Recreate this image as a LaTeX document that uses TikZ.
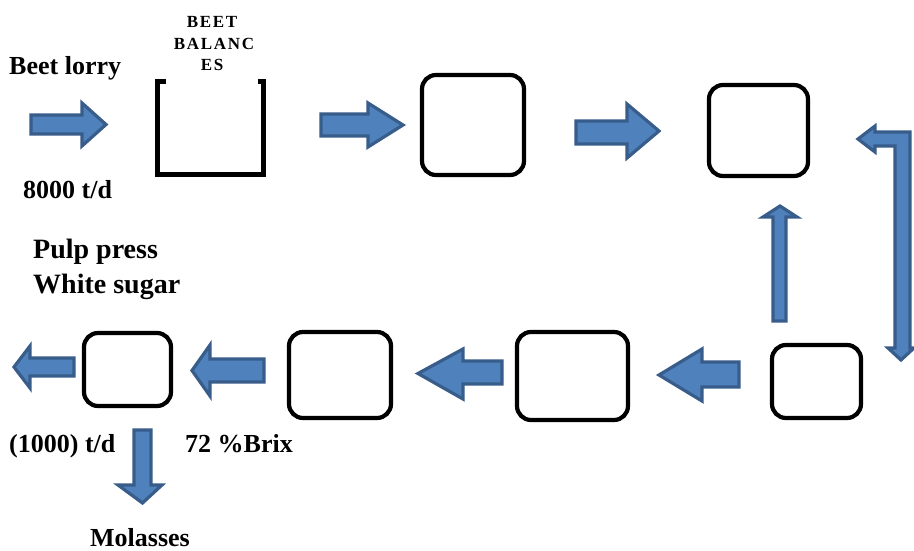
\documentclass[tikz,border=0pt]{standalone}
\usepackage{fontspec}
\setmainfont{Liberation Serif}
\definecolor{arrowfill}{HTML}{4F81BD}
\definecolor{arrowline}{HTML}{385D8A}
\tikzset{
  blockarrow/.style={fill=arrowfill, draw=arrowline, line width=3.2pt, line join=miter},
  procbox/.style={draw=black, line width=4.2pt, rounded corners=14pt, inner sep=0pt},
  lbl/.style={font=\fontsize{26}{30}\selectfont\bfseries, inner sep=0pt, anchor=base west},
  biglbl/.style={font=\fontsize{28}{32}\selectfont\bfseries, inner sep=0pt, anchor=base west},
  smalllbl/.style={font=\fontsize{17}{20}\selectfont\bfseries\addfontfeatures{LetterSpace=10}, inner sep=0pt, anchor=base},
}
\begin{document}
\begin{tikzpicture}[x=1pt, y=-1pt]
\useasboundingbox (0,0) rectangle (914,550);
\fill[white] (0,0) rectangle (914,550);

% texts
\node[lbl] (lorry) at (9,74) {Beet lorry};
\node[lbl] (rate) at (23,198) {8000 t/d};
\node[biglbl] (pulp) at (33,258) {Pulp press};
\node[biglbl] (white) at (33,293) {White sugar};
\node[lbl] (thousand) at (9,452) {(1000) t/d};
\node[lbl] (brix) at (185,452) {72 \%Brix};
\node[lbl] (molasses) at (90,546) {Molasses};
\node[smalllbl] (bal1) at (212,27) {BEET};
\node[smalllbl] (bal2) at (214,49) {BALANC};
\node[smalllbl] (bal3) at (212,70) {ES};

% beet balances bracket
\draw[line width=5pt, line join=miter] (166,81) -- (157,81) -- (157,174) -- (263,174) -- (263,81) -- (258,81);

% boxes
\node[procbox, minimum width=102pt, minimum height=100pt] (A) at (473,125) {};
\node[procbox, minimum width=99pt, minimum height=91pt] (B) at (758.5,130.5) {};
\node[procbox, minimum width=89pt, minimum height=73pt] (C) at (816.5,381.5) {};
\node[procbox, minimum width=111pt, minimum height=88pt] (D) at (572.5,376) {};
\node[procbox, minimum width=102pt, minimum height=86pt] (E) at (340,375) {};
\node[procbox, minimum width=87pt, minimum height=73pt] (F) at (127.5,369.5) {};

% block arrows (right)
\draw[blockarrow] (31,115) -- (82,115) -- (82,103) -- (106,124.5) -- (82,146) -- (82,134) -- (31,134) -- cycle;
\draw[blockarrow] (321,114) -- (368,114) -- (368,103) -- (403,125) -- (368,147) -- (368,136) -- (321,136) -- cycle;
\draw[blockarrow] (576,121) -- (627,121) -- (627,104) -- (659,131) -- (627,158) -- (627,144) -- (576,144) -- cycle;

% block arrows (left)
\draw[blockarrow] (739,362) -- (702,362) -- (702,349) -- (659,375) -- (702,401) -- (702,387) -- (739,387) -- cycle;
\draw[blockarrow] (502,361) -- (463,361) -- (463,349) -- (418,373.5) -- (463,399) -- (463,384) -- (502,384) -- cycle;
\draw[blockarrow] (264,359) -- (210,359) -- (210,345) -- (192,370.5) -- (210,396) -- (210,382) -- (264,382) -- cycle;
\draw[blockarrow] (74,358) -- (30,358) -- (30,346) -- (14,367) -- (30,388) -- (30,376) -- (74,376) -- cycle;

% down arrow to molasses
\draw[blockarrow] (134,430) -- (151,430) -- (151,485) -- (162,485) -- (142.5,503) -- (118,485) -- (134,485) -- cycle;

% up arrow
\draw[blockarrow] (773,321) -- (773,217) -- (763,217) -- (780,206) -- (797,217) -- (786,217) -- (786,321) -- cycle;

% elbow arrow on the right
\draw[blockarrow] (858,139) -- (875,126) -- (875,132) -- (910,132) -- (910,348) -- (914,348) -- (901,360) -- (888,348) -- (895,348) -- (895,146) -- (875,146) -- (875,152) -- cycle;
\end{tikzpicture}
\end{document}
